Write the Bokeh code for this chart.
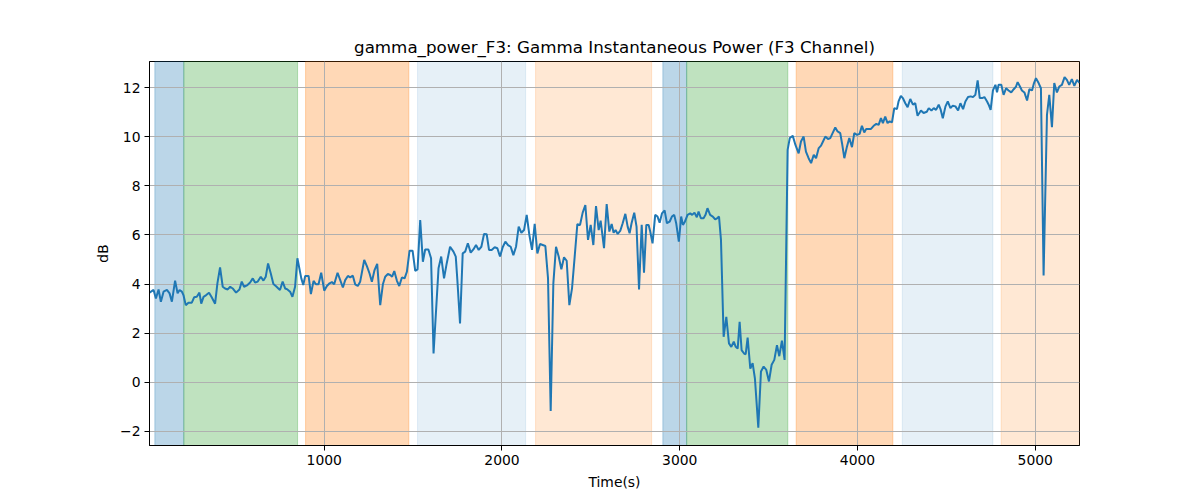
from bokeh.plotting import figure
from bokeh.models import BoxAnnotation, FixedTicker, ColumnDataSource
from bokeh.embed import file_html
from bokeh.resources import INLINE

# ---------------- data ----------------
time_s = [
    17, 40, 53, 68, 81, 96, 115, 130, 143, 161, 175, 186, 199, 208, 221, 236, 255, 268, 283, 298,
    308, 321, 336, 352, 367, 386, 399, 414, 429, 442, 457, 471, 485, 504, 523, 536, 549, 568, 583, 598,
    611, 626, 643, 658, 671, 684, 699, 714, 729, 742, 751, 766, 780, 793, 808, 821, 836, 849, 871, 882,
    893, 912, 925, 940, 953, 968, 983, 1000, 1015, 1030, 1043, 1056, 1075, 1090, 1105, 1118, 1133, 1146, 1161, 1174,
    1189, 1202, 1225, 1240, 1255, 1268, 1283, 1298, 1315, 1330, 1343, 1358, 1371, 1382, 1394, 1409, 1422, 1437, 1452, 1465,
    1480, 1497, 1512, 1525, 1540, 1555, 1568, 1586, 1601, 1615, 1643, 1658, 1674, 1689, 1708, 1727, 1740, 1749, 1764, 1779,
    1793, 1808, 1824, 1839, 1854, 1869, 1884, 1899, 1914, 1927, 1942, 1959, 1974, 1989, 2004, 2019, 2034, 2049, 2064, 2079,
    2094, 2109, 2124, 2139, 2154, 2169, 2184, 2199, 2214, 2229, 2244, 2259, 2274, 2289, 2304, 2319, 2334, 2349, 2364, 2379,
    2394, 2409, 2424, 2439, 2454, 2469, 2484, 2499, 2514, 2529, 2544, 2555, 2574, 2589, 2604, 2617, 2628, 2639, 2651, 2666,
    2679, 2694, 2707, 2718, 2729, 2744, 2757, 2771, 2786, 2799, 2812, 2825, 2834, 2847, 2862, 2875, 2887, 2900, 2915, 2928,
    2943, 2956, 2969, 2980, 2995, 3008, 3018, 3029, 3044, 3059, 3070, 3083, 3096, 3106, 3119, 3134, 3145, 3156, 3171, 3186,
    3199, 3210, 3221, 3232, 3247, 3262, 3277, 3290, 3304, 3315, 3326, 3337, 3348, 3362, 3371, 3382, 3397, 3410, 3423, 3442,
    3457, 3472, 3487, 3502, 3517, 3532, 3547, 3560, 3575, 3590, 3607, 3619, 3636, 3651, 3669, 3682, 3697, 3710, 3725, 3739,
    3754, 3767, 3782, 3795, 3806, 3819, 3834, 3847, 3860, 3875, 3888, 3903, 3913, 3926, 3941, 3954, 3969, 3982, 3997, 4012,
    4025, 4038, 4049, 4063, 4076, 4091, 4106, 4119, 4132, 4143, 4156, 4169, 4181, 4194, 4207, 4222, 4231, 4244, 4255, 4269,
    4282, 4297, 4312, 4325, 4338, 4357, 4372, 4390, 4401, 4416, 4429, 4442, 4457, 4467, 4480, 4495, 4508, 4523, 4536, 4551,
    4566, 4579, 4594, 4607, 4622, 4637, 4650, 4663, 4676, 4688, 4701, 4714, 4729, 4738, 4749, 4762, 4776, 4785, 4794, 4809,
    4822, 4836, 4850, 4865, 4879, 4892, 4901, 4914, 4925, 4939, 4954, 4967, 4982, 4993, 5004, 5019, 5032, 5047, 5066, 5079,
    5094, 5107, 5122, 5135, 5150, 5165, 5178, 5191, 5206, 5220, 5235, 5249,
]
gamma_db = [
    3.65, 3.76, 3.41, 3.78, 3.28, 3.69, 3.76, 3.62, 3.28, 4.14, 3.62, 3.76, 3.69, 3.55, 3.14, 3.24, 3.24, 3.46, 3.48, 3.65,
    3.20, 3.48, 3.55, 3.65, 3.46, 3.20, 4.03, 4.68, 3.89, 3.82, 3.78, 3.89, 3.82, 3.65, 3.78, 4.10, 3.89, 3.96, 4.06, 4.23,
    4.06, 4.10, 4.30, 4.14, 4.30, 4.84, 4.44, 4.00, 3.91, 3.82, 3.76, 4.10, 3.82, 3.78, 3.69, 3.48, 3.89, 5.05, 4.23, 3.96,
    4.33, 4.33, 3.59, 4.13, 3.99, 3.99, 4.46, 3.73, 3.92, 4.03, 4.08, 3.99, 4.46, 4.16, 3.86, 4.16, 4.33, 4.27, 4.34, 3.99,
    3.92, 4.09, 4.98, 4.73, 4.43, 4.09, 4.57, 4.82, 3.14, 3.99, 4.30, 4.41, 4.37, 4.30, 4.53, 4.13, 3.92, 4.27, 4.23, 4.50,
    5.36, 5.36, 4.54, 4.60, 6.61, 4.91, 5.41, 5.41, 5.05, 1.17, 4.64, 5.12, 4.23, 4.84, 5.52, 5.32, 5.12, 4.16, 2.39, 5.25,
    5.32, 5.66, 5.28, 5.41, 5.59, 5.39, 5.52, 6.04, 6.03, 5.39, 5.39, 5.50, 5.46, 5.12, 5.50, 5.73, 5.59, 5.52, 5.18, 5.52,
    6.34, 6.09, 6.20, 6.82, 6.00, 5.39, 6.45, 5.25, 5.63, 5.59, 5.55, 4.23, -1.17, 4.03, 5.52, 5.12, 4.60, 5.09, 4.95, 3.14,
    3.82, 5.12, 6.44, 6.41, 6.91, 7.22, 5.80, 6.41, 5.59, 7.18, 6.20, 6.58, 5.46, 7.26, 6.14, 6.45, 6.09, 6.20, 6.04, 6.18,
    6.48, 6.86, 6.34, 6.07, 6.48, 6.91, 6.34, 3.78, 6.41, 4.46, 6.41, 6.41, 6.14, 5.66, 6.82, 6.75, 6.50, 6.88, 7.00, 6.48,
    6.54, 6.75, 6.82, 6.48, 5.73, 6.75, 6.41, 6.54, 6.82, 6.88, 6.82, 6.91, 6.72, 6.95, 6.68, 6.68, 6.82, 7.09, 6.82, 6.75,
    6.64, 6.68, 6.75, 5.80, 1.85, 2.66, 1.58, 1.44, 1.65, 1.44, 1.37, 2.46, 1.31, 1.17, 1.14, 1.82, 0.55, 0.78, 0.15, -1.85,
    0.44, 0.64, 0.50, 0.03, 0.71, 0.91, 1.51, 1.06, 1.69, 0.91, 9.47, 9.95, 10.04, 9.67, 9.33, 9.81, 10.01, 9.40, 9.13, 8.93,
    9.27, 9.13, 9.54, 9.64, 9.81, 10.01, 9.91, 9.95, 10.15, 10.38, 10.22, 10.15, 9.74, 9.13, 9.61, 9.95, 9.58, 10.15, 10.08, 10.12,
    10.45, 10.18, 10.32, 10.32, 10.32, 10.45, 10.53, 10.49, 10.76, 10.56, 10.83, 10.56, 10.63, 10.59, 11.17, 11.13, 11.44, 11.67, 11.58, 11.37,
    11.21, 11.54, 11.31, 11.37, 10.86, 11.07, 10.97, 11.02, 11.17, 11.07, 11.17, 11.10, 11.31, 11.13, 10.76, 11.24, 11.44, 11.17, 11.27, 11.24,
    11.07, 11.37, 11.13, 11.44, 11.62, 11.65, 11.62, 11.71, 12.30, 11.58, 11.58, 11.62, 11.44, 11.31, 11.10, 11.89, 12.12, 11.81, 12.12, 12.12,
    11.71, 11.98, 11.89, 11.81, 11.94, 12.05, 12.23, 12.05, 11.89, 11.81, 11.48, 11.94, 11.89, 12.19, 12.39, 12.19, 11.98, 4.35, 10.90, 11.71,
    10.39, 12.19, 11.81, 12.05, 12.12, 12.43, 12.32, 12.12, 12.35, 12.08, 12.32, 12.20,
]

phase_start = [47, 210, 895, 1525, 2189, 2905, 3039, 3655, 4252, 4808]
phase_end = [210, 850, 1476, 2133, 2842, 3039, 3608, 4199, 4762, 5300]
phase_kind = ["k1", "k2", "k3", "k4", "k5", "k1", "k2", "k3", "k4", "k5"]

x_ticks = [1000, 2000, 3000, 4000, 5000]
y_ticks = [-2, 0, 2, 4, 6, 8, 10, 12]
y_tick_labels = ["\u22122", "0", "2", "4", "6", "8", "10", "12"]

# ---------------- styles ----------------
KIND_STYLE = {
    "k1": ("#1f77b4", 0.30),
    "k2": ("#2ca02c", 0.30),
    "k3": ("#ff7f0e", 0.30),
    "k4": ("#1f77b4", 0.11),
    "k5": ("#ff7f0e", 0.18),
}
FONT = "DejaVu Sans"

p = figure(
    width=1192, height=492,
    output_backend="svg", toolbar_location=None,
    x_range=(17, 5249), y_range=(-2.58, 13.07),
    min_border_left=149, min_border_right=113,
    min_border_top=61, min_border_bottom=46,
    title="gamma_power_F3: Gamma Instantaneous Power (F3 Channel)",
)
p.background_fill_color = "white"
p.border_fill_color = "white"

for s, e, k in zip(phase_start, phase_end, phase_kind):
    c, a = KIND_STYLE[k]
    p.add_layout(BoxAnnotation(left=s, right=e, fill_color=c, fill_alpha=a,
                               line_color=c, line_alpha=a, line_width=1,
                               level="image"))

src = ColumnDataSource(dict(t=time_s, v=gamma_db))
p.line("t", "v", source=src, line_color="#1f77b4", line_width=2)

p.title.text_font = FONT
p.title.text_font_size = "16.7px"
p.title.text_font_style = "normal"
p.title.align = "center"
p.title.text_color = "black"

p.xaxis.ticker = FixedTicker(ticks=x_ticks)
p.yaxis.ticker = FixedTicker(ticks=y_ticks)
p.yaxis.major_label_overrides = {t: l for t, l in zip(y_ticks, y_tick_labels)}
p.xaxis.axis_label = "Time(s)"
p.yaxis.axis_label = "dB"

for ax in (p.xaxis, p.yaxis):
    ax.major_label_text_font = FONT
    ax.major_label_text_font_size = "13.9px"
    ax.major_label_text_color = "black"
    ax.axis_label_text_font = FONT
    ax.axis_label_text_font_size = "13.9px"
    ax.axis_label_text_font_style = "normal"
    ax.axis_label_text_color = "black"
    ax.major_tick_out = 5
    ax.major_tick_in = 0
    ax.minor_tick_out = 0
    ax.minor_tick_in = 0
    ax.major_tick_line_color = "black"
    ax.axis_line_color = "black"
    ax.major_label_standoff = 4
    ax.axis_label_standoff = 6

p.grid.grid_line_color = "#b0b0b0"
p.grid.grid_line_width = 1
p.outline_line_color = "black"
p.outline_line_alpha = 1
p.outline_line_width = 1

open("out.html", "w").write(file_html(p, INLINE))
